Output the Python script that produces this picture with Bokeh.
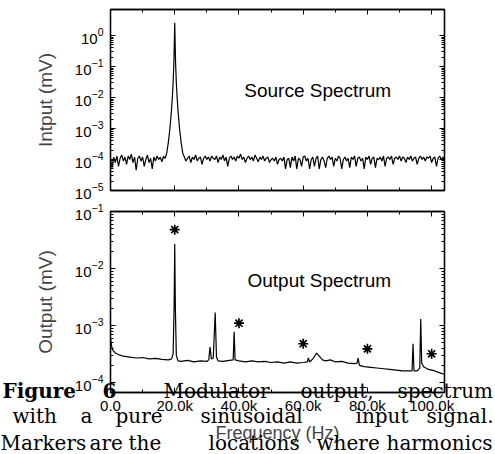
import numpy as np
from bokeh.plotting import figure
from bokeh.layouts import column
from bokeh.models import Range1d, FixedTicker, LinearAxis, LogAxis, Label, CustomJSTickFormatter
from bokeh.embed import file_html
from bokeh.resources import INLINE

# ---------------- data (frequency in kHz, amplitude in mV) ----------------
# Source spectrum: noise floor left of the tone (0 .. 17 kHz, 0.5 kHz step)
src_noise_left = [
    0.9e-4, 0.55e-4, 1.2e-4, 0.8e-4, 1.3e-4, 0.6e-4, 1.1e-4, 1.4e-4, 0.9e-4, 1.2e-4,
    0.7e-4, 1.3e-4, 1.0e-4, 1.5e-4, 0.8e-4, 1.2e-4, 0.45e-4, 1.1e-4, 1.3e-4, 0.9e-4,
    1.2e-4, 0.6e-4, 1.0e-4, 1.4e-4, 0.8e-4, 1.1e-4, 0.5e-4, 1.2e-4, 0.9e-4, 1.3e-4,
    1.0e-4, 1.2e-4, 0.85e-4, 1.25e-4, 1.1e-4,
]
# Source spectrum: the 20 kHz tone
src_peak_freq = [17.5, 18.0, 18.5, 19.0, 19.25, 19.5, 19.75, 20.0,
                 20.25, 20.5, 20.75, 21.0, 21.5, 22.0, 22.5]
src_peak_vals = [1.6e-4, 3.5e-4, 1.0e-3, 4.0e-3, 1.0e-2, 3.0e-2, 0.15, 2.6,
                 0.15, 3.0e-2, 1.0e-2, 4.0e-3, 1.0e-3, 3.5e-4, 1.6e-4]
# Source spectrum: noise floor right of the tone (23 .. 104 kHz, 0.5 kHz step)
src_noise_right = [
    1.2e-4, 0.9e-4, 1.1e-4, 1.3e-4, 0.8e-4, 1.2e-4, 1.0e-4, 1.4e-4, 0.9e-4, 1.1e-4,
    1.2e-4, 0.7e-4, 1.1e-4, 1.3e-4, 1.0e-4, 1.2e-4, 0.9e-4, 1.3e-4, 1.1e-4, 1.0e-4,
    1.3e-4, 0.8e-4, 1.2e-4, 1.0e-4, 1.4e-4, 0.9e-4, 1.2e-4, 0.6e-4, 1.1e-4, 1.3e-4,
    1.0e-4, 1.2e-4, 0.9e-4, 1.3e-4, 1.1e-4, 1.5e-4, 1.0e-4, 1.2e-4, 0.8e-4, 1.1e-4,
    1.3e-4, 1.0e-4, 1.2e-4, 0.9e-4, 1.4e-4, 1.1e-4, 0.85e-4, 1.2e-4, 1.0e-4, 1.3e-4,
    0.9e-4, 1.1e-4, 1.2e-4, 0.8e-4, 1.0e-4, 1.1e-4, 0.9e-4, 1.2e-4, 0.7e-4, 1.0e-4,
    1.1e-4, 0.9e-4, 1.2e-4, 0.5e-4, 1.0e-4, 1.1e-4, 0.55e-4, 1.2e-4, 0.9e-4, 1.3e-4,
    0.5e-4, 1.1e-4, 1.0e-4, 0.6e-4, 1.2e-4, 1.3e-4, 0.9e-4, 1.1e-4, 0.5e-4, 1.0e-4,
    1.2e-4, 0.6e-4, 1.1e-4, 1.3e-4, 0.5e-4, 1.0e-4, 1.2e-4, 0.9e-4, 0.55e-4, 1.1e-4,
    1.3e-4, 1.0e-4, 1.2e-4, 0.6e-4, 1.1e-4, 0.9e-4, 1.3e-4, 1.1e-4, 0.5e-4, 1.0e-4,
    1.2e-4, 0.9e-4, 1.1e-4, 0.55e-4, 1.2e-4, 1.0e-4, 1.3e-4, 0.6e-4, 1.1e-4, 1.2e-4,
    0.9e-4, 1.1e-4, 0.5e-4, 1.2e-4, 1.0e-4, 1.3e-4, 0.7e-4, 1.1e-4, 1.2e-4, 0.55e-4,
    1.1e-4, 1.0e-4, 1.2e-4, 0.9e-4, 1.3e-4, 0.6e-4, 1.1e-4, 1.2e-4, 1.0e-4, 1.3e-4,
    0.7e-4, 1.1e-4, 1.2e-4, 1.0e-4, 1.3e-4, 0.9e-4, 1.2e-4, 1.1e-4, 0.8e-4, 1.2e-4,
    1.0e-4, 1.3e-4, 0.9e-4, 1.1e-4, 1.2e-4, 0.7e-4, 1.1e-4, 1.3e-4, 1.0e-4, 1.2e-4,
    0.9e-4, 1.2e-4, 1.1e-4, 1.3e-4, 0.8e-4, 1.1e-4, 1.2e-4, 0.6e-4, 1.1e-4, 1.3e-4,
    1.0e-4, 1.2e-4, 0.9e-4,
]

# Output spectrum of the modulator
out_freq = [0.0, 0.3, 0.7, 1.5, 2.5, 4.0, 6.0, 8.0, 10.0, 12.0,
            14.0, 16.0, 18.0, 19.0, 19.5, 19.8, 20.0, 20.2, 20.5, 21.0,
            22.0, 24.0, 26.0, 28.0, 30.0, 30.6, 31.0, 31.4, 32.0, 32.6,
            33.0, 33.5, 35.0, 37.0, 38.2, 38.5, 38.8, 40.0, 42.0, 44.0,
            46.0, 48.0, 50.0, 52.0, 54.0, 56.0, 58.0, 60.0, 61.3, 61.6,
            62.0, 63.0, 64.2, 65.0, 66.0, 67.0, 68.5, 70.0, 72.0, 74.0,
            76.0, 76.8, 77.1, 77.5, 79.0, 81.0, 83.0, 85.0, 87.0, 89.0,
            91.0, 93.0, 93.9, 94.2, 94.5, 95.5, 96.3, 96.6, 96.9, 97.5,
            99.0, 101.0, 103.0, 104.0]
out_vals = [6.0e-4, 4.5e-4, 3.7e-4, 3.3e-4, 3.1e-4, 2.9e-4, 2.8e-4, 2.7e-4, 2.75e-4, 2.6e-4,
            2.65e-4, 2.55e-4, 2.5e-4, 2.6e-4, 3.2e-4, 2.0e-3, 2.7e-2, 2.0e-3, 3.0e-4, 2.4e-4,
            2.35e-4, 2.45e-4, 2.3e-4, 2.4e-4, 2.35e-4, 2.5e-4, 4.2e-4, 2.6e-4, 2.7e-4, 1.7e-3,
            2.8e-4, 2.4e-4, 2.35e-4, 2.45e-4, 2.5e-4, 7.8e-4, 2.5e-4, 2.4e-4, 2.3e-4, 2.4e-4,
            2.3e-4, 2.35e-4, 2.25e-4, 2.3e-4, 2.2e-4, 2.3e-4, 2.2e-4, 2.25e-4, 2.3e-4, 2.7e-4,
            2.3e-4, 2.6e-4, 3.3e-4, 2.9e-4, 2.5e-4, 2.4e-4, 2.5e-4, 2.3e-4, 2.35e-4, 2.2e-4,
            2.15e-4, 2.2e-4, 2.7e-4, 2.0e-4, 1.9e-4, 1.85e-4, 1.8e-4, 1.75e-4, 1.7e-4, 1.65e-4,
            1.6e-4, 1.6e-4, 1.6e-4, 4.8e-4, 1.6e-4, 1.6e-4, 1.8e-4, 1.3e-3, 2.2e-4, 1.9e-4,
            1.7e-4, 1.6e-4, 1.45e-4, 1.4e-4]

# Harmonic locations (markers)
harm_freq = [20, 40, 60, 80, 100]
harm_vals = [4.8e-2, 1.1e-3, 4.8e-4, 3.9e-4, 3.2e-4]

x_tick_vals = [0, 20, 40, 60, 80, 100]
x_tick_labels = ["0.0", "20.0k", "40.0k", "60.0k", "80.0k", "100.0k"]
x_minor_vals = [10, 30, 50, 70, 90]
top_decades = [1e-5, 1e-4, 1e-3, 1e-2, 1e-1, 1e0]
bot_decades = [1e-4, 1e-3, 1e-2, 1e-1]

# ---------------- assemble series ----------------
src_freq = list(np.arange(len(src_noise_left)) * 0.5) + src_peak_freq + \
    list(23.0 + np.arange(len(src_noise_right)) * 0.5)
src_vals = src_noise_left + src_peak_vals + src_noise_right

SANS = "Liberation Sans"
SERIF = "DejaVu Serif"


def minor_for(decades):
    m = []
    for d in decades[:-1]:
        m += [k * d for k in range(2, 10)]
    return m


def style_axis(ax, show_labels):
    ax.axis_line_color = "black"
    ax.axis_line_width = 1.3
    ax.major_tick_line_color = "black"
    ax.minor_tick_line_color = "black"
    ax.major_tick_in = 5
    ax.major_tick_out = 0
    ax.minor_tick_in = 3
    ax.minor_tick_out = 0
    ax.major_label_text_font = SANS
    ax.major_label_text_color = "black"
    if show_labels:
        ax.major_label_text_font_size = "15px"
    else:
        ax.formatter = CustomJSTickFormatter(code="return ''")
        ax.major_label_text_font_size = "1px"
        ax.major_label_standoff = 0
        ax.axis_label = None


def make_panel(height, btop, bbottom, yr, decades, ylabel, xlabels):
    p = figure(width=495, height=height, x_range=Range1d(0, 104), y_range=Range1d(*yr),
               y_axis_type="log", output_backend="svg", toolbar_location=None,
               min_border_left=110, min_border_right=51,
               min_border_top=btop, min_border_bottom=bbottom)
    p.grid.visible = False
    p.outline_line_color = "black"
    p.outline_line_width = 1.3
    p.background_fill_color = "white"
    p.border_fill_color = "white"

    xt = FixedTicker(ticks=x_tick_vals, minor_ticks=x_minor_vals)
    yt = FixedTicker(ticks=decades, minor_ticks=minor_for(decades))

    p.xaxis.ticker = xt
    p.yaxis.ticker = yt
    style_axis(p.xaxis[0], xlabels)
    style_axis(p.yaxis[0], True)
    if xlabels:
        p.xaxis.major_label_overrides = dict(zip(x_tick_vals, x_tick_labels))
    p.yaxis.major_label_standoff = 7
    p.yaxis.axis_label = ylabel
    p.yaxis.axis_label_text_font = SANS
    p.yaxis.axis_label_text_font_style = "normal"
    p.yaxis.axis_label_text_font_size = "19px"
    p.yaxis.axis_label_standoff = 16
    if xlabels:
        p.xaxis.major_label_standoff = 4
        p.xaxis.axis_label = "Frequency (Hz)"
        p.xaxis.axis_label_text_font = SANS
        p.xaxis.axis_label_text_font_style = "normal"
        p.xaxis.axis_label_text_font_size = "18px"
        p.xaxis.axis_label_standoff = 6

    top_ax = LinearAxis(ticker=xt)
    style_axis(top_ax, False)
    p.add_layout(top_ax, "above")
    right_ax = LogAxis(ticker=yt)
    style_axis(right_ax, False)
    p.add_layout(right_ax, "right")
    return p


# ---------------- top panel: source spectrum ----------------
p1 = make_panel(200, 9, 10, (1e-5, 7.0), top_decades, "Intput (mV)", False)
p1.line(src_freq, src_vals, line_color="black", line_width=1.2)
p1.add_layout(Label(x=64.5, y=0.017, text="Source Spectrum", text_align="center",
                    text_baseline="middle", text_font=SANS, text_font_size="19px",
                    text_color="black"))

# ---------------- bottom panel: output spectrum ----------------
p2 = make_panel(254, 11, 62, (6.7e-5, 0.1), bot_decades, "Output (mV)", True)
p2.line(out_freq, out_vals, line_color="black", line_width=1.2)
p2.scatter(harm_freq, harm_vals, marker="asterisk", size=10, line_width=1.7,
           line_color="black")
p2.add_layout(Label(x=65, y=6.2e-3, text="Output Spectrum", text_align="center",
                    text_baseline="middle", text_font=SANS, text_font_size="19px",
                    text_color="black"))

# ---------------- overlapping caption of the scanned page ----------------
CAP_H = 82
p3 = figure(width=495, height=CAP_H, x_range=Range1d(0, 495), y_range=Range1d(0, CAP_H),
            output_backend="svg", toolbar_location=None,
            x_axis_location=None, y_axis_location=None, min_border=0,
            margin=(-CAP_H, 0, 0, 0))
try:
    p3.frame_align = False
except Exception:
    pass
p3.grid.visible = False
p3.outline_line_color = None
p3.background_fill_color = None
p3.border_fill_color = None

caption_lines = [
    (390, [("Figure", 2, "bold"), ("6", 102, "bold"), ("Modulator", 163, "normal"),
           ("output,", 300, "normal"), ("spectrum", 397, "normal")]),
    (415, [("with", 12, "normal"), ("a", 80, "normal"), ("pure", 115, "normal"),
           ("sinusoidal", 200, "normal"), ("input", 355, "normal"),
           ("signal.", 426, "normal")]),
    (442, [("Markers", 0, "normal"), ("are", 89, "normal"), ("the", 128, "normal"),
           ("locations", 208, "normal"), ("where", 316, "normal"),
           ("harmonics", 386, "normal")]),
]
PAGE_H = 454
for base, words in caption_lines:
    for w, xpos, style in words:
        p3.add_layout(Label(x=xpos, y=PAGE_H - base,
                            x_units="screen", y_units="screen", text=w,
                            text_align="left", text_baseline="alphabetic",
                            text_font=SERIF, text_font_style=style,
                            text_font_size="20px", text_color="black"))

layout = column(p1, p2, p3, spacing=0)
open("out.html", "w").write(file_html(layout, INLINE))
